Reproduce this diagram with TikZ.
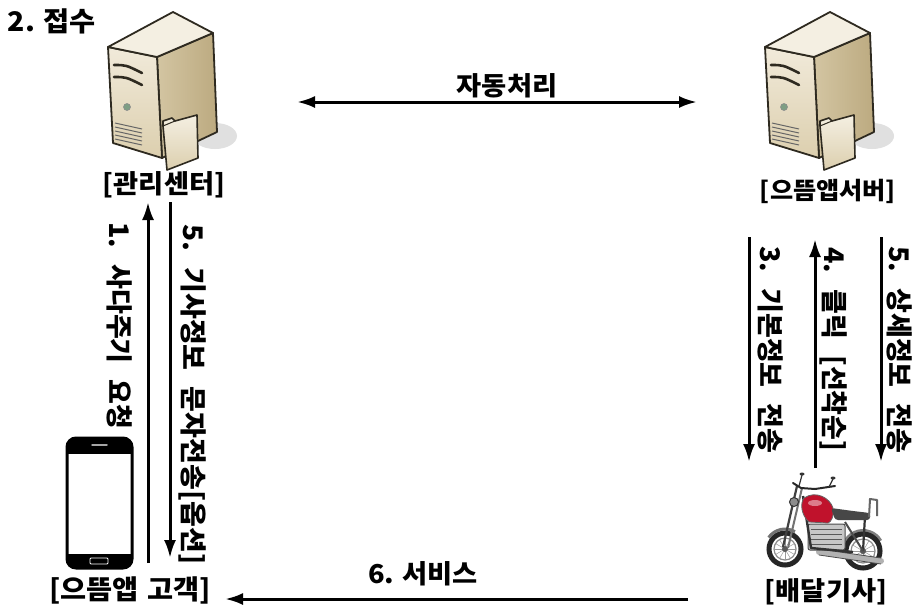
\documentclass[tikz,border=0pt]{standalone}
\usepackage{fontspec}
\newfontfamily\krb[FakeStretch=1.05]{Noto Sans CJK KR Black}
\newfontfamily\krv[FakeStretch=1.0]{Noto Sans CJK KR Black}
\newfontfamily\krvn[FakeStretch=1.04]{Noto Sans CJK KR Black}
\usetikzlibrary{arrows.meta}
\newcommand\wsp{\hspace{0.3em}}
\newcommand\vsp{\hspace{0.6em}}

\definecolor{srvline}{HTML}{2E2A20}
\definecolor{srvtop}{HTML}{F4EFE2}
\definecolor{srvfrontA}{HTML}{F1EADA}
\definecolor{srvfrontB}{HTML}{DCCFAE}
\definecolor{srvsideA}{HTML}{D3C5A2}
\definecolor{srvsideB}{HTML}{BCAA80}
\definecolor{ledgreen}{HTML}{7E9E84}
\definecolor{tankred}{HTML}{C0122C}

\tikzset{
  lab/.style={font=\krb\fontsize{26}{30}\selectfont, inner sep=0pt},
  vlab/.style={font=\krv\fontsize{27}{30}\selectfont, rotate=-90, inner sep=0pt, anchor=west},
  arr/.style={line width=3pt, -{Latex[length=18pt,width=12pt]}},
  darr/.style={line width=3pt, {Latex[length=18pt,width=12pt]}-{Latex[length=18pt,width=12pt]}},
  serverpc/.pic={
    % soft shadow behind the case
    \fill[black!12] (55,46) ellipse [x radius=22, y radius=13];
    % right side face
    \shade[left color=srvsideA, right color=srvsideB, draw=srvline, line width=1.8pt, line join=round]
      (-3,-33) -- (53,-57) -- (57,42) -- (2,68) -- cycle;
    % front face
    \shade[top color=srvfrontA, bottom color=srvfrontB, draw=srvline, line width=1.8pt, line join=round]
      (-52,-43) -- (-3,-33) -- (2,68) -- (-47,53) -- cycle;
    % top face
    \fill[srvtop, draw=srvline, line width=1.8pt, line join=round]
      (13,-78) -- (53,-57) -- (-3,-33) -- (-52,-43) -- cycle;
    % drive slots
    \draw[srvline, line width=2.6pt, line cap=round] (-46,-25) .. controls (-34,-25) .. (-18,-17);
    \draw[srvline, line width=2.6pt, line cap=round] (-46,-13) .. controls (-34,-13) .. (-18,-5);
    % power led
    \fill[ledgreen, draw=black!45, line width=0.6pt] (-33,17) circle [radius=3.5];
    % vents
    \foreach \k in {0,1,2,3,4}
      \draw[black!60, line width=1pt] (-45,33+4*\k) -- (-18,39+4*\k);
    % folder card leaning on the case
    \shade[top color=srvtop, bottom color=srvfrontB, draw=srvline, line width=1.6pt, line join=round]
      (3,36) -- (3,31) -- (12,28) -- (15,31) -- (37,25) -- (38,68) -- (7,80) -- cycle;
    \draw[srvline, line width=1pt] (3,36) -- (15,31);
  },
  motopc/.pic={
    % rear fender
    \draw[black!50, line width=4pt] (38,21) ++(200:20) arc [start angle=200, end angle=330, radius=20];
    % wheels
    \foreach \cx/\cy/\rr in {-40/19/16, 38/21/17} {
      \draw[black!85, line width=5pt] (\cx,\cy) circle [radius=\rr];
      \draw[black!45, line width=1.2pt] (\cx,\cy) circle [radius=\rr-5];
      \foreach \a in {0,30,...,150}
        \draw[black!40, line width=0.5pt] (\cx,\cy) ++(\a:\rr-5) -- ++(\a+180:2*\rr-10);
      \fill[black!65] (\cx,\cy) circle [radius=3];
    }
    % front fender
    \draw[black!55, line width=3pt] (-40,19) ++(215:20) arc [start angle=215, end angle=300, radius=20];
    % exhaust pipes
    \draw[black!30, line width=6pt, line cap=round] (-6,22) -- (56,31);
    \draw[black!70, line width=0.8pt] (-6,19) -- (56,28);
    \draw[black!70, line width=0.8pt] (-6,25) -- (56,34);
    % engine block
    \fill[black!22, draw=black!70, line width=1pt, rounded corners=2pt] (-17,-6) rectangle (20,20);
    \foreach \k in {0,1,2,3}
      \draw[black!65, line width=0.8pt] (-14,-1+5*\k) -- (17,-1+5*\k);
    % frame
    \draw[black!80, line width=2.4pt, line join=round] (-22,-34) -- (-14,18) -- (28,22);
    \draw[black!80, line width=2.2pt, line join=round] (-10,-22) -- (40,-14) -- (38,21);
    \draw[black!70, line width=2pt] (20,-8) -- (38,21);
    % front fork
    \draw[black!75, line width=2.2pt] (-28,-44) -- (-42,17);
    \draw[black!55, line width=2pt] (-23,-42) -- (-37,18);
    % headlight
    \fill[black!45, draw=black!80, line width=1pt] (-31,-28) circle [radius=4.5];
    % fuel tank
    \fill[tankred, draw=black!60, line width=0.8pt]
      (-21,-32) .. controls (-9,-40) and (5,-32) .. (8,-22)
      .. controls (9,-13) and (6,-8) .. (3,-7) -- (-16,-8)
      .. controls (-24,-15) and (-25,-27) .. cycle;
    \fill[white, opacity=0.45] (-10,-27) ellipse [x radius=7, y radius=3];
    % seat
    \fill[black!72, rounded corners=3pt] (6,-22) -- (28,-19) -- (45,-17) -- (45,-10) -- (10,-10) -- cycle;
    % backrest
    \draw[black!60, line width=2pt, line join=round] (44,-13) -- (45,-31) -- (52,-30) -- (52,-14);
    % handlebars and mirrors
    \draw[black!85, line width=2pt, line cap=round, line join=round] (-32,-47) -- (-24,-42) -- (-10,-41) -- (10,-44);
    \draw[black!80, line width=1.2pt] (-26,-44) -- (-23,-55);
    \draw[black!80, line width=1.2pt] (4,-43) -- (8,-51);
    \fill[black!80] (-23,-56) ellipse [x radius=2.5, y radius=1.5];
    \fill[black!80] (8,-52) ellipse [x radius=2.5, y radius=1.5];
  }
}

\begin{document}
\begin{tikzpicture}[x=1pt, y=-1pt]
  \useasboundingbox (0,0) rectangle (920,611);
  \fill[white] (0,0) rectangle (920,611);

  % server cases
  \pic at (160,90) {serverpc};
  \pic at (817,90) {serverpc};

  % customer phone
  \begin{scope}
    \clip[rounded corners=9pt] (67,438) rectangle (132,568);
    \fill[black] (67,438) rectangle (132,454);
    \fill[black] (67,554) rectangle (132,568);
  \end{scope}
  \draw[black, line width=3pt, rounded corners=9pt] (67,438) rectangle (132,568);
  \draw[black!35, line width=1.5pt, line cap=round] (92,445) -- (107,445);
  \draw[white, line width=0.8pt, rounded corners=1pt] (90,558) rectangle (108,564);

  % delivery motorcycle
  \pic at (825,530) {motopc};

  % labels
  \node[lab, font=\krb\fontsize{27}{30}\selectfont] (stepTwo) at (52,21) {2. 접수};
  \node[lab] (centerLbl) at (164,185) {[관리센터]};
  \node[lab, font=\krb\fontsize{24}{28}\selectfont] (serverLbl) at (828,191) {[으뜸앱서버]};
  \node[lab] (autoLbl) at (507,86) {자동처리};
  \node[lab, font=\krb\fontsize{27}{30}\selectfont] (custLbl) at (130,590) {[으뜸앱\wsp 고객]};
  \node[lab] (riderLbl) at (826,592) {[배달기사]};
  \node[lab] (svcLbl) at (423,574) {6.\wsp 서비스};

  % vertical labels, anchored at their top end
  \node[vlab] (reqLbl) at (120,222) {1.\vsp 사다주기\vsp 요청};
  \node[vlab, font=\krvn\fontsize{27}{30}\selectfont] (smsLbl) at (193,224) {5.\vsp 기사정보\vsp 문자전송[옵션]};
  \node[vlab] (basicLbl) at (771,246) {3.\vsp 기본정보\vsp 전송};
  \node[vlab] (clickLbl) at (834,247) {4.\vsp 클릭\vsp [선착순]};
  \node[vlab] (detailLbl) at (900,246) {5.\vsp 상세정보\vsp 전송};

  % arrow end points
  \coordinate (autoL) at (297,102);
  \coordinate (autoR) at (697,102);
  \coordinate (reqS) at (148,563);
  \coordinate (reqE) at (148,202);
  \coordinate (smsS) at (170,202);
  \coordinate (smsE) at (170,558);
  \coordinate (basicS) at (749,237);
  \coordinate (basicE) at (749,462);
  \coordinate (clickS) at (815,468);
  \coordinate (clickE) at (815,239);
  \coordinate (detailS) at (881,237);
  \coordinate (detailE) at (881,462);
  \coordinate (svcS) at (688,599);
  \coordinate (svcE) at (225,599);

  % arrows
  \draw[darr] (autoL) -- (autoR);
  \draw[arr] (reqS) -- (reqE);
  \draw[arr] (smsS) -- (smsE);
  \draw[arr] (basicS) -- (basicE);
  \draw[arr] (clickS) -- (clickE);
  \draw[arr] (detailS) -- (detailE);
  \draw[arr] (svcS) -- (svcE);
\end{tikzpicture}
\end{document}
